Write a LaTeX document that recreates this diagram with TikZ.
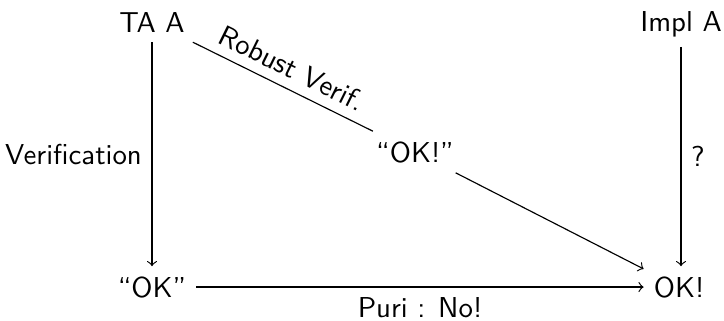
\documentclass[tikz,border=0pt]{standalone}
\begin{document}
\begin{tikzpicture}[x=0.3472pt,y=-0.3472pt,
  lbl/.style={font=\sffamily, anchor=base},
  edgelbl/.style={font=\sffamily},
  arr/.style={->}]
\useasboundingbox (0,0) rectangle (724,320);
\node[lbl] (ta) at (152,32) {TA A};
\node[lbl] (impl) at (681,31) {Impl A};
\node[lbl] (mid) at (415,162) {``OK!''};
\node[lbl] (ok1) at (152,297) {``OK''};
\node[lbl] (ok2) at (679,297) {OK!};
\draw[arr] (ta) -- node[edgelbl,left] {Verification} (ok1);
\draw (ta) -- node[edgelbl,above,sloped] {Robust Verif.} (mid);
\draw[arr] (mid) -- (ok2);
\draw[arr] (impl) -- node[edgelbl,right] {?} (impl |- ok2.north);
\draw[arr] (ok1) -- node[edgelbl,below] {Puri : No!} (ok2);
\end{tikzpicture}
\end{document}
